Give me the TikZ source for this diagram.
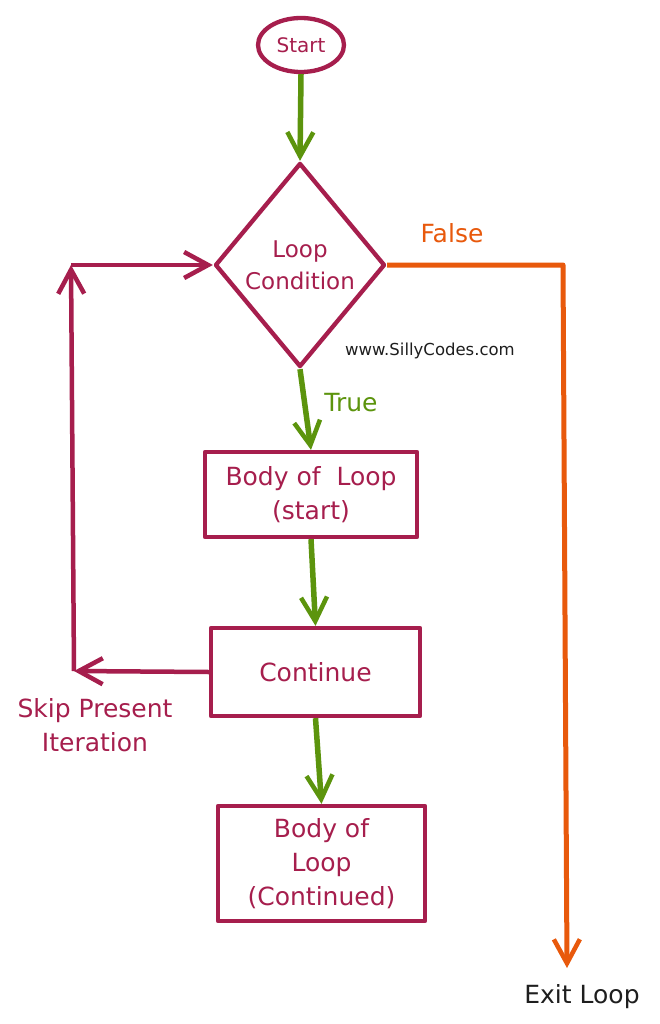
\documentclass[tikz,border=0pt]{standalone}
\usepackage{fontspec}
\setmainfont{DejaVu Sans}
\usetikzlibrary{shapes.geometric,arrows.meta}
\definecolor{crim}{HTML}{A61E4D}
\definecolor{grn}{HTML}{5C940D}
\definecolor{orng}{HTML}{E8590C}
\definecolor{ink}{HTML}{1E1E1E}
\begin{document}
\begin{tikzpicture}[x=1pt,y=-1pt,
  shapeline/.style={draw=crim,line width=4.3pt,line join=round},
  boxnode/.style={shapeline,rectangle,inner sep=0pt,align=center,text=crim,
    font=\fontsize{25}{34}\selectfont},
  txt/.style={inner sep=0pt,align=center,font=\fontsize{25}{34}\selectfont},
  barb/.style={-{Straight Barb[length=24pt,width=26pt,line width=4.5pt]}},
  garrow/.style={draw=grn,line width=5.5pt,barb},
  oarrow/.style={draw=orng,line width=5pt,barb,line join=round},
  carrow/.style={draw=crim,line width=4.5pt,barb,line join=round}]
\useasboundingbox[fill=white] (0,0) rectangle (659,1024);
% nodes
\node[shapeline,ellipse,minimum width=86pt,minimum height=54pt,inner sep=0pt,
  text=crim,font=\fontsize{20}{22}\selectfont] (start) at (301,45) {Start};
\node[shapeline,diamond,minimum width=170pt,minimum height=204pt,inner sep=0pt] (cond) at (300,265) {};
\node[txt,text=crim,font=\fontsize{23}{32}\selectfont] (condtxt) at (cond.center) {Loop\\Condition};
\node[boxnode,minimum width=212pt,minimum height=85pt] (body1) at (311,494.5) {Body of\ \ Loop\\(start)};
\node[boxnode,minimum width=209pt,minimum height=88pt] (cont) at (315.5,672) {Continue};
\node[boxnode,minimum width=207pt,minimum height=115pt] (body2) at (321.5,863.5) {Body of\\Loop\\(Continued)};
\node[txt,text=orng] (false) at (452,233) {False};
\node[txt,text=grn] (true) at (351,403) {True};
\node[txt,text=ink,font=\fontsize{16.5}{20}\selectfont] (www) at (430,351) {www.SillyCodes.com};
\node[txt,text=crim] (skip) at (95,725) {Skip Present\\Iteration};
\node[txt,text=ink] (exit) at (582,997) {Exit Loop};
\coordinate (fc) at (563,265);
\coordinate (fend) at (567,968);
\coordinate (sk) at (74,671);
\coordinate (up) at (71,265);
% connectors
\draw[garrow] (start.south) -- (cond.north);
\draw[garrow] (cond.south) -- (body1.north);
\draw[garrow] (body1.south) -- (cont.north);
\draw[garrow] (cont.south) -- (body2.north);
\draw[oarrow] (cond.east) -- (fc) -- (fend);
\draw[carrow] (cont.west) -- (sk);
\draw[carrow] (sk) -- (up);
\draw[carrow] (up) -- (cond.west);
\end{tikzpicture}
\end{document}
